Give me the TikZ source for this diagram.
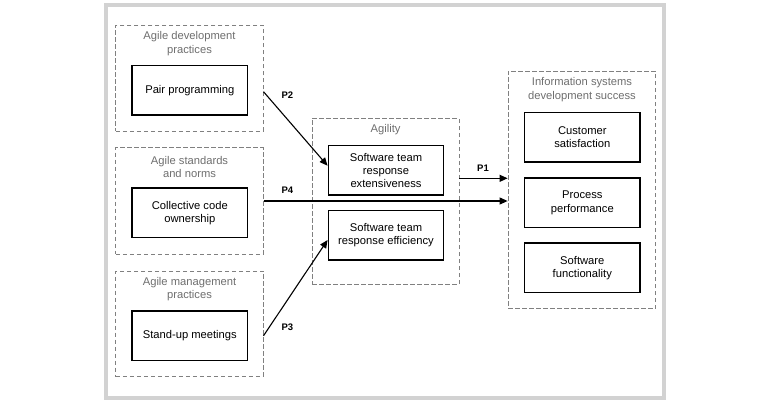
\documentclass[tikz,border=0pt]{standalone}
\usepackage{fontspec}
\setmainfont{Liberation Sans}
\usetikzlibrary{calc,arrows.meta}
\definecolor{grpline}{HTML}{808080}
\definecolor{grptext}{HTML}{6E6E6E}
\definecolor{framecol}{HTML}{D2D2D2}
\begin{document}
\begin{tikzpicture}[x=1pt,y=-1pt,
  grp/.style={draw=grpline, dash pattern=on 4.5pt off 2.5pt, line width=0.9pt, inner sep=0pt},
  box/.style={draw=black, line width=1.4pt, align=center, inner sep=0pt, minimum width=115.5pt, minimum height=49.5pt, font=\fontsize{11.2}{13.3}\selectfont},
  grptitle/.style={text=grptext, align=center, inner sep=0pt, font=\fontsize{11.2}{13.3}\selectfont},
  plabel/.style={inner sep=0pt, font=\fontsize{9.5}{11}\selectfont\bfseries},
  arr/.style={-{Triangle[length=8pt,width=7pt]}, line width=1.1pt}]
\useasboundingbox (0,0) rectangle (768,402);
\draw[framecol, line width=4pt] (105.5,5) rectangle (664,398);

% left groups
\node[grp, minimum width=147.3pt, minimum height=106pt] (g1) at (189.4,78) {};
\node[grptitle] (t1) at (189.5,43.5) {Agile development\\practices};
\node[box] (pair) at (189.8,90.2) {Pair programming};

\node[grp, minimum width=147.3pt, minimum height=106.6pt] (g2) at (189.4,201) {};
\node[grptitle] (t2) at (189.5,166.7) {Agile standards\\and norms};
\node[box] (coll) at (189.8,212.8) {Collective code\\ownership};

\node[grp, minimum width=147.3pt, minimum height=105.7pt] (g3) at (189.4,323.8) {};
\node[grptitle] (t3) at (189.5,289) {Agile management\\practices};
\node[box] (stand) at (189.8,335.8) {Stand-up meetings};

% agility
\node[grp, minimum width=146.7pt, minimum height=166.3pt] (ag) at (385.6,201.2) {};
\node[grptitle] (tag) at (385.6,130) {Agility};
\node[box] (ext) at (386,170.3) {Software team\\response\\extensiveness};
\node[box] (eff) at (386,235.3) {Software team\\response efficiency};

% IS success
\node[grp, minimum width=147.7pt, minimum height=237.3pt] (is) at (581.9,189.7) {};
\node[grptitle] (tis) at (582,89.5) {Information systems\\development success};
\node[box] (cust) at (582.3,137.3) {Customer\\satisfaction};
\node[box] (proc) at (582.3,202.7) {Process\\performance};
\node[box] (func) at (582.3,267.8) {Software\\functionality};

% arrows
\draw[arr] ($(g1.east)+(0,13.7)$) -- ($(ext.west)+(0,-4.6)$);
\draw[arr] (g2.east) -- (is.west |- g2.east);
\draw[arr] ($(ag.east)+(0,-22.9)$) -- (is.west |- {$(ag.east)+(0,-22.9)$});
\draw[arr] (g3.east |- stand) -- ($(eff.west)+(0,4.7)$);

\node[plabel] (p2) at (287.4,95) {P2};
\node[plabel] (p4) at (287.4,190.7) {P4};
\node[plabel] (p1) at (483,168.3) {P1};
\node[plabel] (p3) at (287.4,327.7) {P3};
\end{tikzpicture}
\end{document}
